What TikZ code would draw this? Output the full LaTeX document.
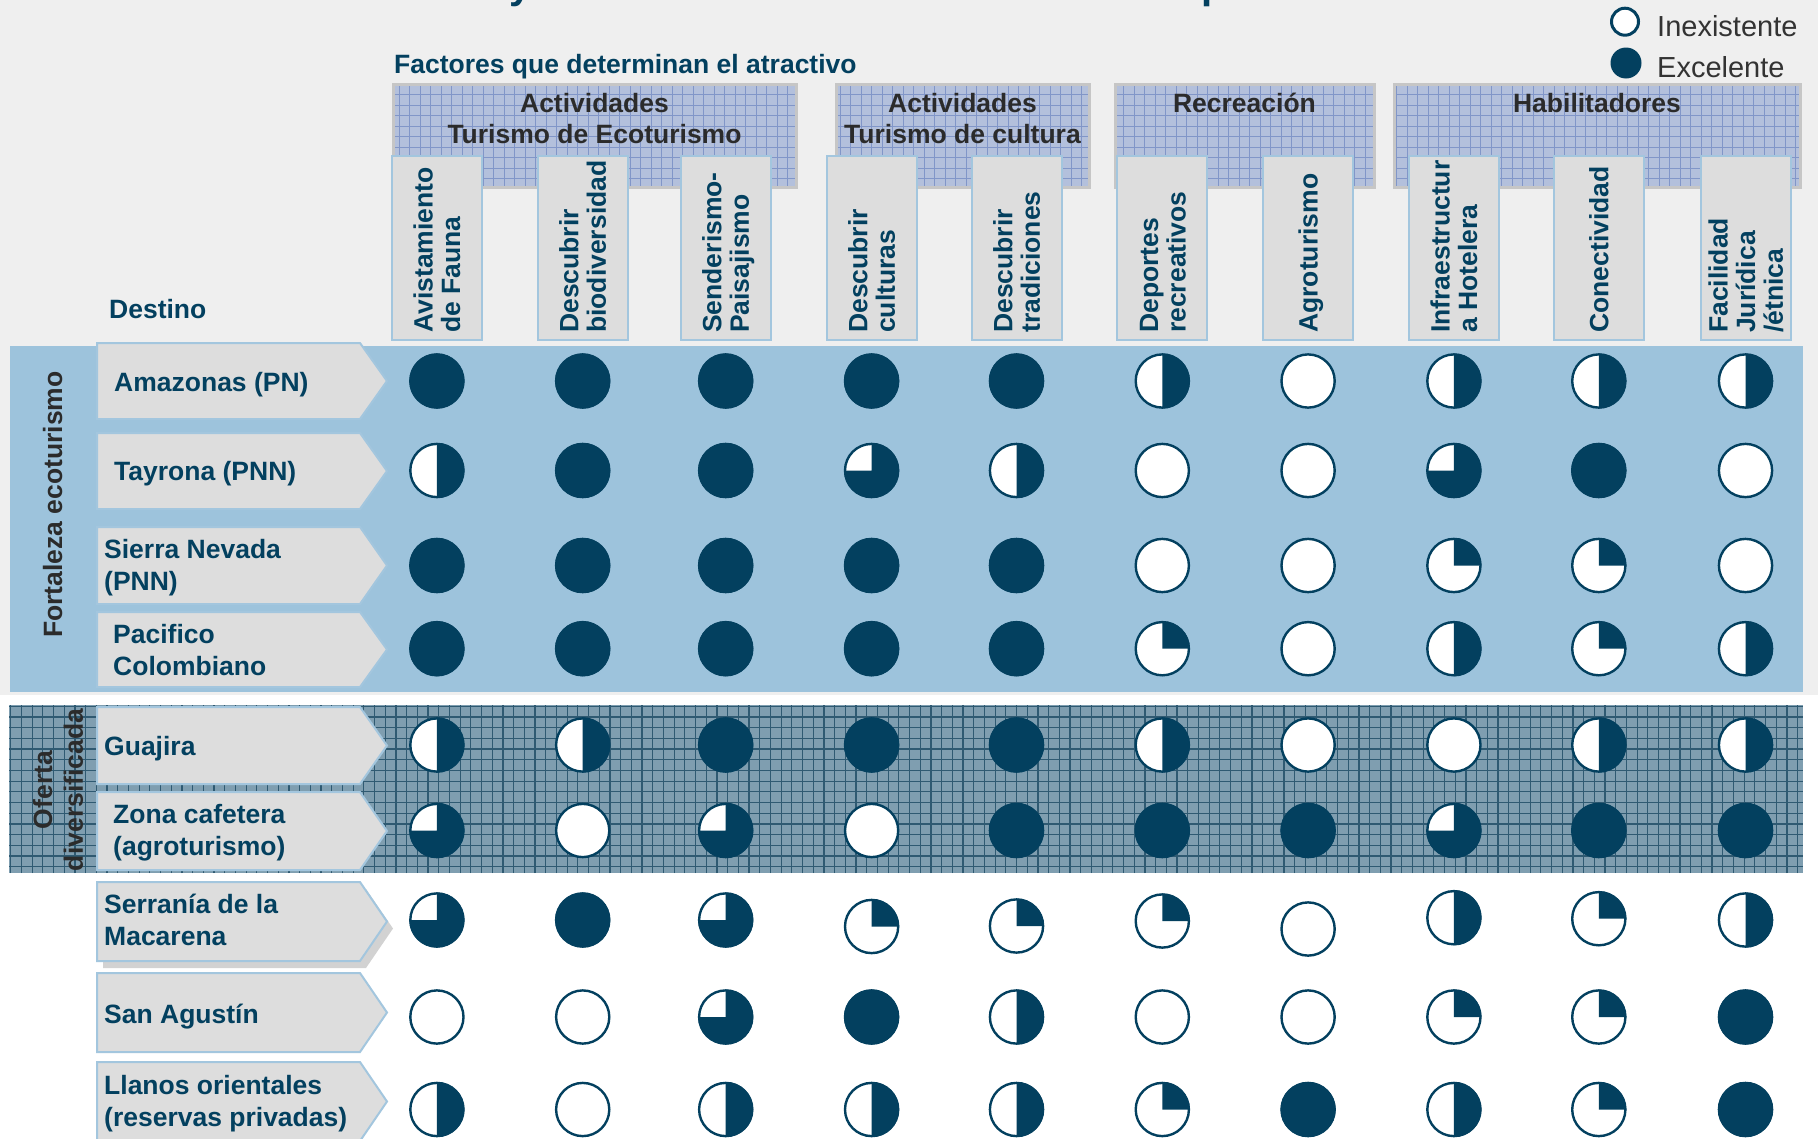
\documentclass[tikz,border=0pt]{standalone}
\usepackage{fontspec}
\setmainfont{Liberation Sans}
\definecolor{dblue}{HTML}{03405F}
\definecolor{bandblue}{HTML}{9DC3DC}
\definecolor{boxgray}{HTML}{DDDDDD}
\definecolor{edgeblue}{HTML}{A3C6DE}
\definecolor{hdrfill}{HTML}{B3C0DC}
\definecolor{hdrgrid}{HTML}{8196C8}
\definecolor{hdredge}{HTML}{C6C6C6}
\definecolor{darkband}{HTML}{7F9EB0}
\definecolor{darkgrid}{HTML}{2F5A72}
\definecolor{txtgray}{HTML}{2B2B2B}
\definecolor{bggray}{HTML}{EFEFEF}
\definecolor{shadowgray}{HTML}{D2D2D2}
\definecolor{leggray}{HTML}{333333}
\newcommand\hdrbox[2]{%
  \begin{scope}
    \clip (#1,-84) rectangle (#2,-187);
    \fill[hdrfill] (#1,-84) rectangle (#2,-187);
    \draw[hdrgrid, line width=0.9] (#1,-84) grid[step=10.5] (#2,-187);
  \end{scope}
  \draw[hdredge, line width=3] (#1,-84) rectangle (#2,-187);
}
\newcommand\colhdr[4]{%
  \draw[edgeblue, fill=boxgray, line width=2] (#1-45,-156) rectangle (#1+45,-340);
  \node[colt] (#2) at (#1+#3,-333) {\begin{tabular}[t]{@{}l@{}}#4\end{tabular}};
}
\newcommand\rowbox[3]{%
  \draw[edgeblue, fill=boxgray, line width=2] (97,-#1) -- (360,-#1) -- (387,-#3) -- (360,-#2) -- (97,-#2) -- cycle;
}
\begin{document}
\begin{tikzpicture}[x=1pt,y=1pt,
  colt/.style={rotate=90, anchor=base west, inner sep=0, text=dblue,
    font=\fontsize{26.5}{27.5}\selectfont\bfseries},
  rowt/.style={anchor=base west, inner sep=0, text=dblue,
    font=\fontsize{26.5}{32}\selectfont\bfseries},
  hdrt/.style={anchor=base, inner sep=0, text=txtgray,
    font=\fontsize{26.5}{31}\selectfont\bfseries},
  sidet/.style={rotate=90, anchor=base, inner sep=0, text=txtgray,
    font=\fontsize{26.5}{31}\selectfont\bfseries},
  bluet/.style={anchor=base west, inner sep=0, text=dblue,
    font=\fontsize{26.5}{31}\selectfont\bfseries},
  legt/.style={anchor=base west, inner sep=0, text=leggray,
    font=\fontsize{29}{33}\selectfont},
  hb/.pic={
    \fill[white] (0,0) circle[radius=27];
    \ifcase#1\relax
    \or \fill[dblue] (0,0) -- (0,27.5) arc[start angle=90,end angle=0,radius=27.5] -- cycle;
    \or \fill[dblue] (0,0) -- (0,27.5) arc[start angle=90,end angle=-90,radius=27.5] -- cycle;
    \or \fill[dblue] (0,0) -- (0,27.5) arc[start angle=90,end angle=-180,radius=27.5] -- cycle;
    \or \fill[dblue] (0,0) circle[radius=27.5];
    \fi
    \draw[dblue, line width=2.4] (0,0) circle[radius=26.6];
  }
]
\useasboundingbox (0,0) rectangle (1818,-1138);
% background
\fill[white] (0,0) rectangle (1818,-1138);
\fill[bggray] (0,0) rectangle (1818,-695);

% cut-off title (only descenders visible)
\node[anchor=base west, inner sep=0, text=dblue, font=\fontsize{40}{40}\selectfont\bfseries] (titleY) at (509,1.4) {y};
\node[anchor=base west, inner sep=0, text=dblue, font=\fontsize{40}{40}\selectfont\bfseries] (titleP) at (1201,1.4) {p};

% legend
\node[circle, draw=dblue, line width=3, fill=white, minimum size=27, inner sep=0] (legE) at (1625,-21.7) {};
\node[circle, fill=dblue, minimum size=31, inner sep=0] (legX) at (1626,-63) {};
\node[legt] (legEt) at (1657,-36) {Inexistente};
\node[legt] (legXt) at (1657,-77) {Excelente};

% title of factors
\node[bluet] (factores) at (394,-73) {Factores que determinan el atractivo};

% header boxes
\hdrbox{393}{796}
\hdrbox{836}{1089}
\hdrbox{1115}{1374}
\hdrbox{1394}{1800}
\node[hdrt] (h1) at (594.5,-112) {\begin{tabular}[t]{@{}c@{}}Actividades\\Turismo de Ecoturismo\end{tabular}};
\node[hdrt] (h2) at (962.5,-112) {\begin{tabular}[t]{@{}c@{}}Actividades\\Turismo de cultura\end{tabular}};
\node[hdrt] (h3) at (1244.5,-112) {Recreación};
\node[hdrt] (h4) at (1597,-112) {Habilitadores};

% column headers
\colhdr{436.9}{c1}{-4.25}{Avistamiento\\de Fauna}
\colhdr{582.7}{c2}{-4.25}{Descubrir\\biodiversidad}
\colhdr{725.7}{c3}{-4.25}{Senderismo-\\Paisajismo}
\colhdr{871.6}{c4}{-4.25}{Descubrir\\culturas}
\colhdr{1016.5}{c5}{-4.25}{Descubrir\\tradiciones}
\colhdr{1162.3}{c6}{-4.25}{Deportes\\recreativos}
\colhdr{1308.1}{c7}{9.5}{Agroturismo}
\colhdr{1453.9}{c8}{-4.25}{Infraestructur\\a Hotelera}
\colhdr{1598.8}{c9}{9.5}{Conectividad}
\colhdr{1745.5}{c10}{-18}{Facilidad\\Jurídica\\/étnica}

\node[bluet] (destino) at (109,-318) {Destino};

% bands
\fill[bandblue] (10,-346) rectangle (1803,-692);
\begin{scope}
  \clip (9,-705) rectangle (1803,-873);
  \fill[darkband] (9,-705) rectangle (1803,-873);
  \draw[darkgrid, line width=1.2] (9,-705) grid[step=10.7] (1803,-873);
\end{scope}

% row boxes
\rowbox{343}{419}{381}
\rowbox{433}{509}{471}
\rowbox{527}{604}{565.5}
\rowbox{612}{687}{649.5}
\rowbox{707}{784}{745.5}
\rowbox{792}{870}{831}
\fill[shadowgray] (103,-889) -- (366,-889) -- (393,-928.5) -- (366,-968) -- (103,-968) -- cycle;
\rowbox{882}{961}{921.5}
\rowbox{973}{1052}{1012.5}
\rowbox{1062}{1141}{1101.5}

% row labels
\node[rowt] (r1) at (114,-391) {\begin{tabular}[t]{@{}l@{}}Amazonas (PN)\end{tabular}};
\node[rowt] (r2) at (114,-480) {\begin{tabular}[t]{@{}l@{}}Tayrona (PNN)\end{tabular}};
\node[rowt] (r3) at (104,-558) {\begin{tabular}[t]{@{}l@{}}Sierra Nevada\\(PNN)\end{tabular}};
\node[rowt] (r4) at (113,-643) {\begin{tabular}[t]{@{}l@{}}Pacifico\\Colombiano\end{tabular}};
\node[rowt] (r5) at (104,-755) {\begin{tabular}[t]{@{}l@{}}Guajira\end{tabular}};
\node[rowt] (r6) at (113,-823) {\begin{tabular}[t]{@{}l@{}}Zona cafetera\\(agroturismo)\end{tabular}};
\node[rowt] (r7) at (104,-913) {\begin{tabular}[t]{@{}l@{}}Serranía de la\\Macarena\end{tabular}};
\node[rowt] (r8) at (104,-1023) {\begin{tabular}[t]{@{}l@{}}San Agustín\end{tabular}};
\node[rowt] (r9) at (104,-1094) {\begin{tabular}[t]{@{}l@{}}Llanos orientales\\(reservas privadas)\end{tabular}};

% side labels
\node[sidet] (fort) at (62,-504.5) {Fortaleza ecoturismo};
\node[sidet] (oferta) at (52,-790) {\begin{tabular}[t]{@{}c@{}}Oferta\\diversificada\end{tabular}};

% Harvey balls
\def\colxs{{436.9,582.7,725.7,871.6,1016.5,1162.3,1308.1,1453.9,1598.8,1745.5}}
\foreach \ry/\vals in {
  381/{4,4,4,4,4,2,0,2,2,2},
  470.5/{2,4,4,3,2,0,0,3,4,0},
  565.5/{4,4,4,4,4,0,0,1,1,0},
  648.7/{4,4,4,4,4,1,0,2,1,2},
  745/{2,2,4,4,4,2,0,0,2,2},
  830.5/{3,0,3,0,4,4,4,3,4,4},
  1017/{0,0,3,4,2,0,0,1,1,4},
  1109.5/{2,0,2,2,2,1,4,2,1,4}} {
  \foreach \v [count=\c] in \vals {
    \pgfmathsetmacro\cx{\colxs[\c-1]}
    \pic at (\cx,-\ry) {hb=\v};
  }
}
\foreach \v/\yy [count=\c] in {3/920,4/920,3/920,1/926.5,1/926,1/921,0/929,2/917.7,1/918.7,2/920} {
  \pgfmathsetmacro\cx{\colxs[\c-1]}
  \pic at (\cx,-\yy) {hb=\v};
}
\end{tikzpicture}
\end{document}
